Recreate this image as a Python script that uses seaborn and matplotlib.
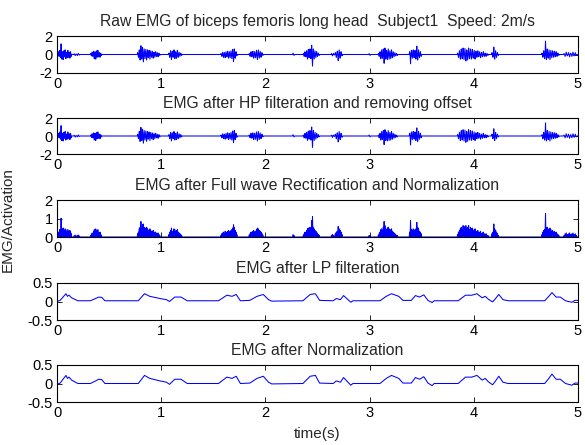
import numpy as np
import pandas as pd
import matplotlib
matplotlib.use("Agg")
import matplotlib.pyplot as plt
import seaborn as sns

# --- data ---
# raw EMG bursts: start time, end time and the spike peaks inside each burst
burst_start = [0.01, 0.16, 0.32, 0.77, 1.07, 1.57, 1.84, 2.26, 2.36, 2.63, 2.99,
               3.08, 3.38, 3.84, 4.17, 4.65, 4.86]
burst_end = [0.14, 0.22, 0.43, 0.99, 1.20, 1.73, 1.98, 2.28, 2.52, 2.74, 3.01,
             3.27, 3.50, 4.14, 4.24, 4.82, 4.99]
burst_spikes = [
    [0.3, -0.2, 0.45, -0.35, 1.15, -0.5, 0.3, -0.55, 0.4, -0.25, 0.5, -0.45,
     0.2, -0.35, 0.45, -0.3, 0.25, -0.4, 0.3, -0.2],
    [0.08, -0.12, 0.05, -0.1, 0.12, -0.06],
    [0.1, -0.15, 0.25, -0.2, 0.35, -0.45, 0.3, -0.5, 0.4, -0.3, 0.45, -0.25,
     0.2, -0.3, 0.15, -0.1],
    [0.2, -0.3, 0.5, -0.6, 0.95, -0.5, 0.75, -0.8, 0.6, -0.45, 0.55, -0.6,
     0.5, -0.35, 0.45, -0.5, 0.4, -0.3, 0.35, -0.4, 0.25, -0.3, 0.3, -0.2,
     0.2, -0.25, 0.15, -0.1],
    [0.15, -0.3, 0.4, -0.55, 0.35, -0.3, 0.5, -0.45, 0.3, -0.4, 0.45, -0.3,
     0.25, -0.2, 0.15, -0.1],
    [0.1, -0.2, 0.25, -0.3, 0.2, -0.35, 0.3, -0.25, 0.35, -0.4, 0.3, -0.35,
     0.4, -0.45, 0.55, -0.75, 0.6, -0.4, 0.3, -0.15],
    [0.1, -0.2, 0.3, -0.25, 0.35, -0.4, 0.3, -0.35, 0.45, -0.55, 0.5, -0.4,
     0.35, -0.3, 0.2, -0.1],
    [0.15, -0.1],
    [0.1, -0.2, 0.3, -0.25, 0.4, -0.5, 0.55, -0.35, 0.6, -0.45, 1.0, -1.25,
     0.6, -0.5, 0.4, -0.35, 0.3, -0.2, 0.15, -0.1],
    [0.1, -0.15, 0.1, -0.05, 0.2, -0.3, 0.35, -0.65, 0.5, -0.4, 0.3, -0.15],
    [0.1, -0.1],
    [0.1, -0.2, 0.3, -0.45, 0.5, -0.4, 0.6, -0.95, 0.7, -0.5, 0.45, -0.55,
     0.6, -0.5, 0.4, -0.45, 0.5, -0.35, 0.3, -0.25, 0.2, -0.15, 0.1, -0.1],
    [0.3, -1.0, 0.45, -0.4, 0.5, -0.35, 0.45, -0.5, 0.9, -0.6, 0.5, -0.35,
     0.3, -0.2],
    [0.15, -0.3, 0.4, -0.5, 0.6, -0.45, 0.7, -0.55, 0.65, -0.7, 0.5, -0.6,
     0.7, -0.45, 0.6, -0.5, 0.55, -0.4, 0.45, -0.5, 0.35, -0.3, 0.4, -0.25,
     0.3, -0.35, 0.2, -0.25, 0.3, -0.2, 0.15, -0.2, 0.1, -0.1],
    [0.2, -0.3, 0.8, -0.5, 0.4, -0.3, 0.2, -0.1],
    [0.15, -0.3, 0.4, -0.45, 1.45, -0.55, 0.6, -0.4, 0.5, -0.55, 0.45, -0.35,
     0.4, -0.3, 0.35, -0.25, 0.3, -0.2, 0.15, -0.1],
    [0.1, -0.2, 0.25, -0.15, 0.2, -0.25, 0.15, -0.2, 0.25, -0.15, 0.2, -0.1],
]
rect_scale = 0.88  # rectified signal / raw amplitude

# low-pass envelope
lp_t = [0.00, 0.03, 0.086, 0.10, 0.115, 0.14, 0.20, 0.32, 0.37, 0.40, 0.43, 0.46,
        0.78, 0.84, 0.89, 0.99, 1.05, 1.08, 1.13, 1.19, 1.25, 1.55, 1.63, 1.68,
        1.72, 1.76, 1.85, 1.92, 1.98, 2.03, 2.06, 2.36, 2.43, 2.48, 2.52, 2.65,
        2.68, 2.72, 2.75, 2.80, 2.82, 2.84, 3.10, 3.16, 3.21, 3.28, 3.32, 3.40,
        3.44, 3.48, 3.52, 3.56, 3.60, 3.62, 3.85, 3.92, 3.98, 4.03, 4.08, 4.11,
        4.14, 4.18, 4.20, 4.24, 4.28, 4.33, 4.68, 4.72, 4.75, 4.79, 4.83, 4.88,
        4.94, 4.97, 5.00]
lp_v = [0.00, 0.03, 0.21, 0.14, 0.17, 0.10, 0.02, 0.02, 0.08, 0.12, 0.11, 0.02,
        0.02, 0.21, 0.14, 0.08, 0.05, 0.00, 0.12, 0.12, 0.02, 0.02, 0.17, 0.14,
        0.19, 0.02, 0.03, 0.14, 0.19, 0.05, 0.01, 0.02, 0.19, 0.21, 0.03, 0.02,
        0.08, 0.05, 0.16, 0.03, -0.02, 0.02, 0.02, 0.14, 0.21, 0.14, 0.03, 0.03,
        0.16, 0.12, 0.18, 0.03, -0.03, 0.02, 0.02, 0.17, 0.17, 0.21, 0.10, 0.14,
        0.06, -0.01, 0.05, 0.19, 0.05, 0.02, 0.02, 0.14, 0.24, 0.12, 0.12, 0.02,
        -0.02, 0.03, 0.03]
norm_offset = 0.02
norm_gain = 1.15

titles = [
    "Raw EMG of biceps femoris long head  Subject1  Speed: 2m/s",
    "EMG after HP filteration and removing offset",
    "EMG after Full wave Rectification and Normalization",
    "EMG after LP filteration",
    "EMG after Normalization",
]

# --- build the signals ---
t_parts, v_parts = [[0.0]], [[0.0]]
for s, e, sp in zip(burst_start, burst_end, burst_spikes):
    tt = np.linspace(s, e, 2 * len(sp) + 1)
    vv = np.zeros(len(tt))
    vv[1::2] = sp
    t_parts.append(tt)
    v_parts.append(vv)
t_parts.append([5.0])
v_parts.append([0.0])
raw_t = np.concatenate(t_parts)
raw_v = np.concatenate(v_parts)

signals = [
    pd.DataFrame({"t": raw_t, "v": raw_v}),
    pd.DataFrame({"t": raw_t, "v": raw_v}),
    pd.DataFrame({"t": raw_t, "v": np.abs(raw_v) * rect_scale}),
    pd.DataFrame({"t": lp_t, "v": lp_v}),
    pd.DataFrame({"t": lp_t, "v": (np.array(lp_v) - norm_offset) * norm_gain}),
]
ylims = [(-2, 2), (-2, 2), (0, 2), (-0.5, 0.5), (-0.5, 0.5)]
yticks = [[-2, 0, 2], [-2, 0, 2], [0, 1, 2], [-0.5, 0, 0.5], [-0.5, 0, 0.5]]
ytick_labels = [["-2", "0", "2"], ["-2", "0", "2"], ["0", "1", "2"],
                ["-0.5", "0", "0.5"], ["-0.5", "0", "0.5"]]

sns.set_style("ticks")
plt.rcParams['font.family'] = ['Liberation Sans', 'DejaVu Sans']

W, H = 585, 445
fig = plt.figure(figsize=(W / 100, H / 100), dpi=100)

# panel pixel boxes (top, bottom)
boxes = [(36, 73), (118, 154), (200, 237), (283, 320), (365, 402)]
left, right = 57, 578

for i, (top, bot) in enumerate(boxes):
    ax = fig.add_axes([left / W, 1 - bot / H, (right - left) / W, (bot - top) / H])
    sns.lineplot(data=signals[i], x="t", y="v", ax=ax, color="blue",
                 linewidth=0.75, estimator=None, sort=False)
    ax.set_xlim(0, 5)
    ax.set_ylim(*ylims[i])
    ax.set_xticks(range(6))
    ax.set_xticklabels([str(k) for k in range(6)])
    ax.set_yticks(yticks[i])
    ax.set_yticklabels(ytick_labels[i])
    ax.set_xlabel("")
    ax.set_ylabel("")
    ax.tick_params(direction="in", top=True, right=True, length=3.5, width=0.6,
                   labelsize=10.5, pad=3, colors="black")
    for sp in ax.spines.values():
        sp.set_visible(True)
        sp.set_color("black")
        sp.set_linewidth(0.8)
    ax.set_title(titles[i], fontsize=11.3, pad=7)

fig.text(317 / W, 1 - 434 / H, "time(s)", ha="center", va="center", fontsize=11)
fig.text(8 / W, 1 - 220 / H, "EMG/Activation", ha="center", va="center",
         rotation=90, fontsize=11)

fig.savefig("out.png", dpi=100)
